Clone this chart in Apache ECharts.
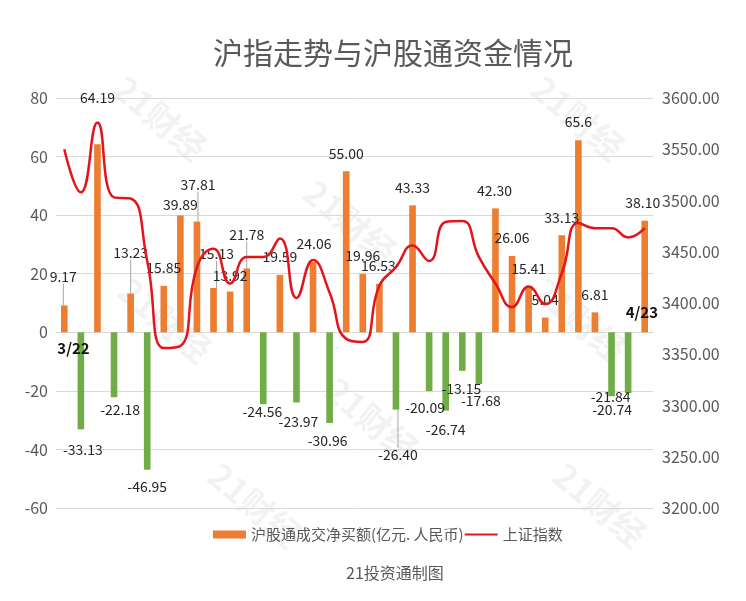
<!DOCTYPE html>
<html><head><meta charset="utf-8">
<script src="https://cdn.jsdelivr.net/npm/echarts@6/dist/echarts.min.js"></script>
<style>html,body{margin:0;padding:0;background:#fff}#c{width:746px;height:601px}</style>
</head><body><div id="c"></div>
<script>
// ---- data ----
const categories = ['1','2','3','4','5','6','7','8','9','10','11','12','13','14','15','16','17','18',
  '19','20','21','22','23','24','25','26','27','28','29','30','31','32','33','34','35','36'];
const netBuy = [9.17,-33.13,64.19,-22.18,13.23,-46.95,15.85,39.89,37.81,15.13,13.92,21.78,
  -24.56,19.59,-23.97,24.06,-30.96,55.00,19.96,16.53,-26.40,43.33,-20.09,-26.74,
  -13.15,-17.68,42.30,26.06,15.41,5.04,33.13,65.6,6.81,-21.84,-20.74,38.10];
const shIndex = [3550,3508,3576,3503,3502,3441,3356,3358,3435,3453,3419,3445,
  3445,3463,3405,3442,3410,3365,3362,3417,3435,3456,3441,3479,
  3480,3445,3419,3396,3416,3399,3429,3478,3473,3473,3464,3473];
const leftTicks = {min:-60, max:80, step:20};
const rightTicks = {min:3200, max:3600, step:50};
const startLabel = '3/22', endLabel = '4/23';
const titleText = '沪指走势与沪股通资金情况';
const sourceText = '21投资通制图';
const barName = '沪股通成交净买额(亿元. 人民币)';
const lineName = '上证指数';

// ---- label layout nudges (px) ----
const nudges = [[-1,-11],[2,3],[0,-29],[6,-5],[0,-23],[0,0],[0,0],[0,7],[1,-19],[3,-16],[0,2],[0,-16],
  [-1,-10],[0,0],[2,2],[1,0],[-2,1],[0,0],[0,0],[-1,0],[2,28],[0,0],[-4,0],[0,2],
  [-1,1],[2,0],[-1,0],[0,0],[0,0],[0,0],[0,0],[0,0],[0,0],[-1,-17],[-16,0],[-2,0]];
const leaders = [0,4,8,9,11,20];

const ORANGE = '#ED7D31', GREEN = '#70AD47', RED = '#E3141B', GRAY = '#595959';
const FONT = '"Noto Sans CJK SC", "Noto Sans", sans-serif';

const chart = echarts.init(document.getElementById('c'), null, {renderer:'canvas'});

const barData = netBuy.map((v, i) => ({
  value: v,
  itemStyle: {color: v >= 0 ? ORANGE : GREEN},
  label: {position: v >= 0 ? 'top' : 'bottom', distance: v >= 0 ? 11 : 10},
  labelLine: {show: leaders.includes(i)}
}));

const watermarks = [[160,118],[578,118],[350,222],[165,320],[580,320],[372,420],[255,505],[600,505]].map((p, k) => ({
  type:'text', x:p[0], y:p[1], rotation:-0.7, z:-10, silent:true,
  style:{text:'21财经', fill:'rgba(0,0,0,0.05)', font:'bold 34px ' + FONT, align:'center', verticalAlign:'middle'}
}));

chart.setOption({
  backgroundColor:'#fff',
  textStyle:{fontFamily:FONT},
  title:[
    {text:titleText, left:208, top:33, textStyle:{fontSize:30, fontWeight:'normal', color:GRAY, fontFamily:FONT}},
    {text:sourceText, left:341, top:560, textStyle:{fontSize:16, fontWeight:'normal', color:GRAY, fontFamily:FONT}}
  ],
  legend:{
    left:208, top:522, itemGap:0, itemWidth:33, itemHeight:8,
    textStyle:{fontSize:15, color:GRAY, fontFamily:FONT},
    data:[{name:barName, icon:'rect'}, {name:lineName, itemStyle:{opacity:0}}]
  },
  grid:{left:56, right:93, top:98, bottom:93},
  xAxis:{type:'category', data:categories, boundaryGap:true,
    axisLine:{show:true, onZero:true, lineStyle:{color:'#D9D9D9'}},
    axisTick:{show:false}, axisLabel:{show:false}, splitLine:{show:false}},
  yAxis:[
    {type:'value', min:leftTicks.min, max:leftTicks.max, interval:leftTicks.step,
      axisLine:{show:false}, axisTick:{show:false},
      axisLabel:{color:GRAY, fontSize:16, margin:8, fontFamily:FONT},
      splitLine:{lineStyle:{color:'#D9D9D9', width:1}}},
    {type:'value', position:'right', min:rightTicks.min, max:rightTicks.max, interval:rightTicks.step,
      axisLine:{show:false}, axisTick:{show:false},
      axisLabel:{color:GRAY, fontSize:16, margin:9, fontFamily:FONT, formatter:v => v.toFixed(2)},
      splitLine:{show:false}}
  ],
  series:[
    {name:barName, type:'bar', barWidth:'40%', itemStyle:{color:ORANGE}, data:barData,
      label:{show:true, fontSize:14, color:'#262626', fontFamily:FONT,
        formatter:p => (p.value === 65.6 ? '65.6' : p.value.toFixed(2))},
      labelLine:{lineStyle:{color:'#A6A6A6', width:1}},
      labelLayout:p => ({dx:nudges[p.dataIndex][0], dy:nudges[p.dataIndex][1]}),
      z:2},
    {name:lineName, type:'line', yAxisIndex:1, data:shIndex, smooth:true, symbol:'none',
      itemStyle:{color:RED}, lineStyle:{color:RED, width:2.5}, z:5}
  ],
  graphic: watermarks
});

const p0 = chart.convertToPixel({xAxisIndex:0, yAxisIndex:0}, [0, 0]);
const p1 = chart.convertToPixel({xAxisIndex:0, yAxisIndex:0}, [categories.length - 1, 0]);
chart.setOption({graphic: watermarks.concat([
  {type:'text', x:p0[0] - 7, y:p0[1] + 16, z:10,
    style:{text:startLabel, fill:'#111', font:'bold 15px ' + FONT, align:'left', verticalAlign:'middle'}},
  {type:'text', x:p1[0] - 19, y:p1[1] - 20, z:10,
    style:{text:endLabel, fill:'#111', font:'bold 15px ' + FONT, align:'left', verticalAlign:'middle'}}
])});
</script>
</body></html>
